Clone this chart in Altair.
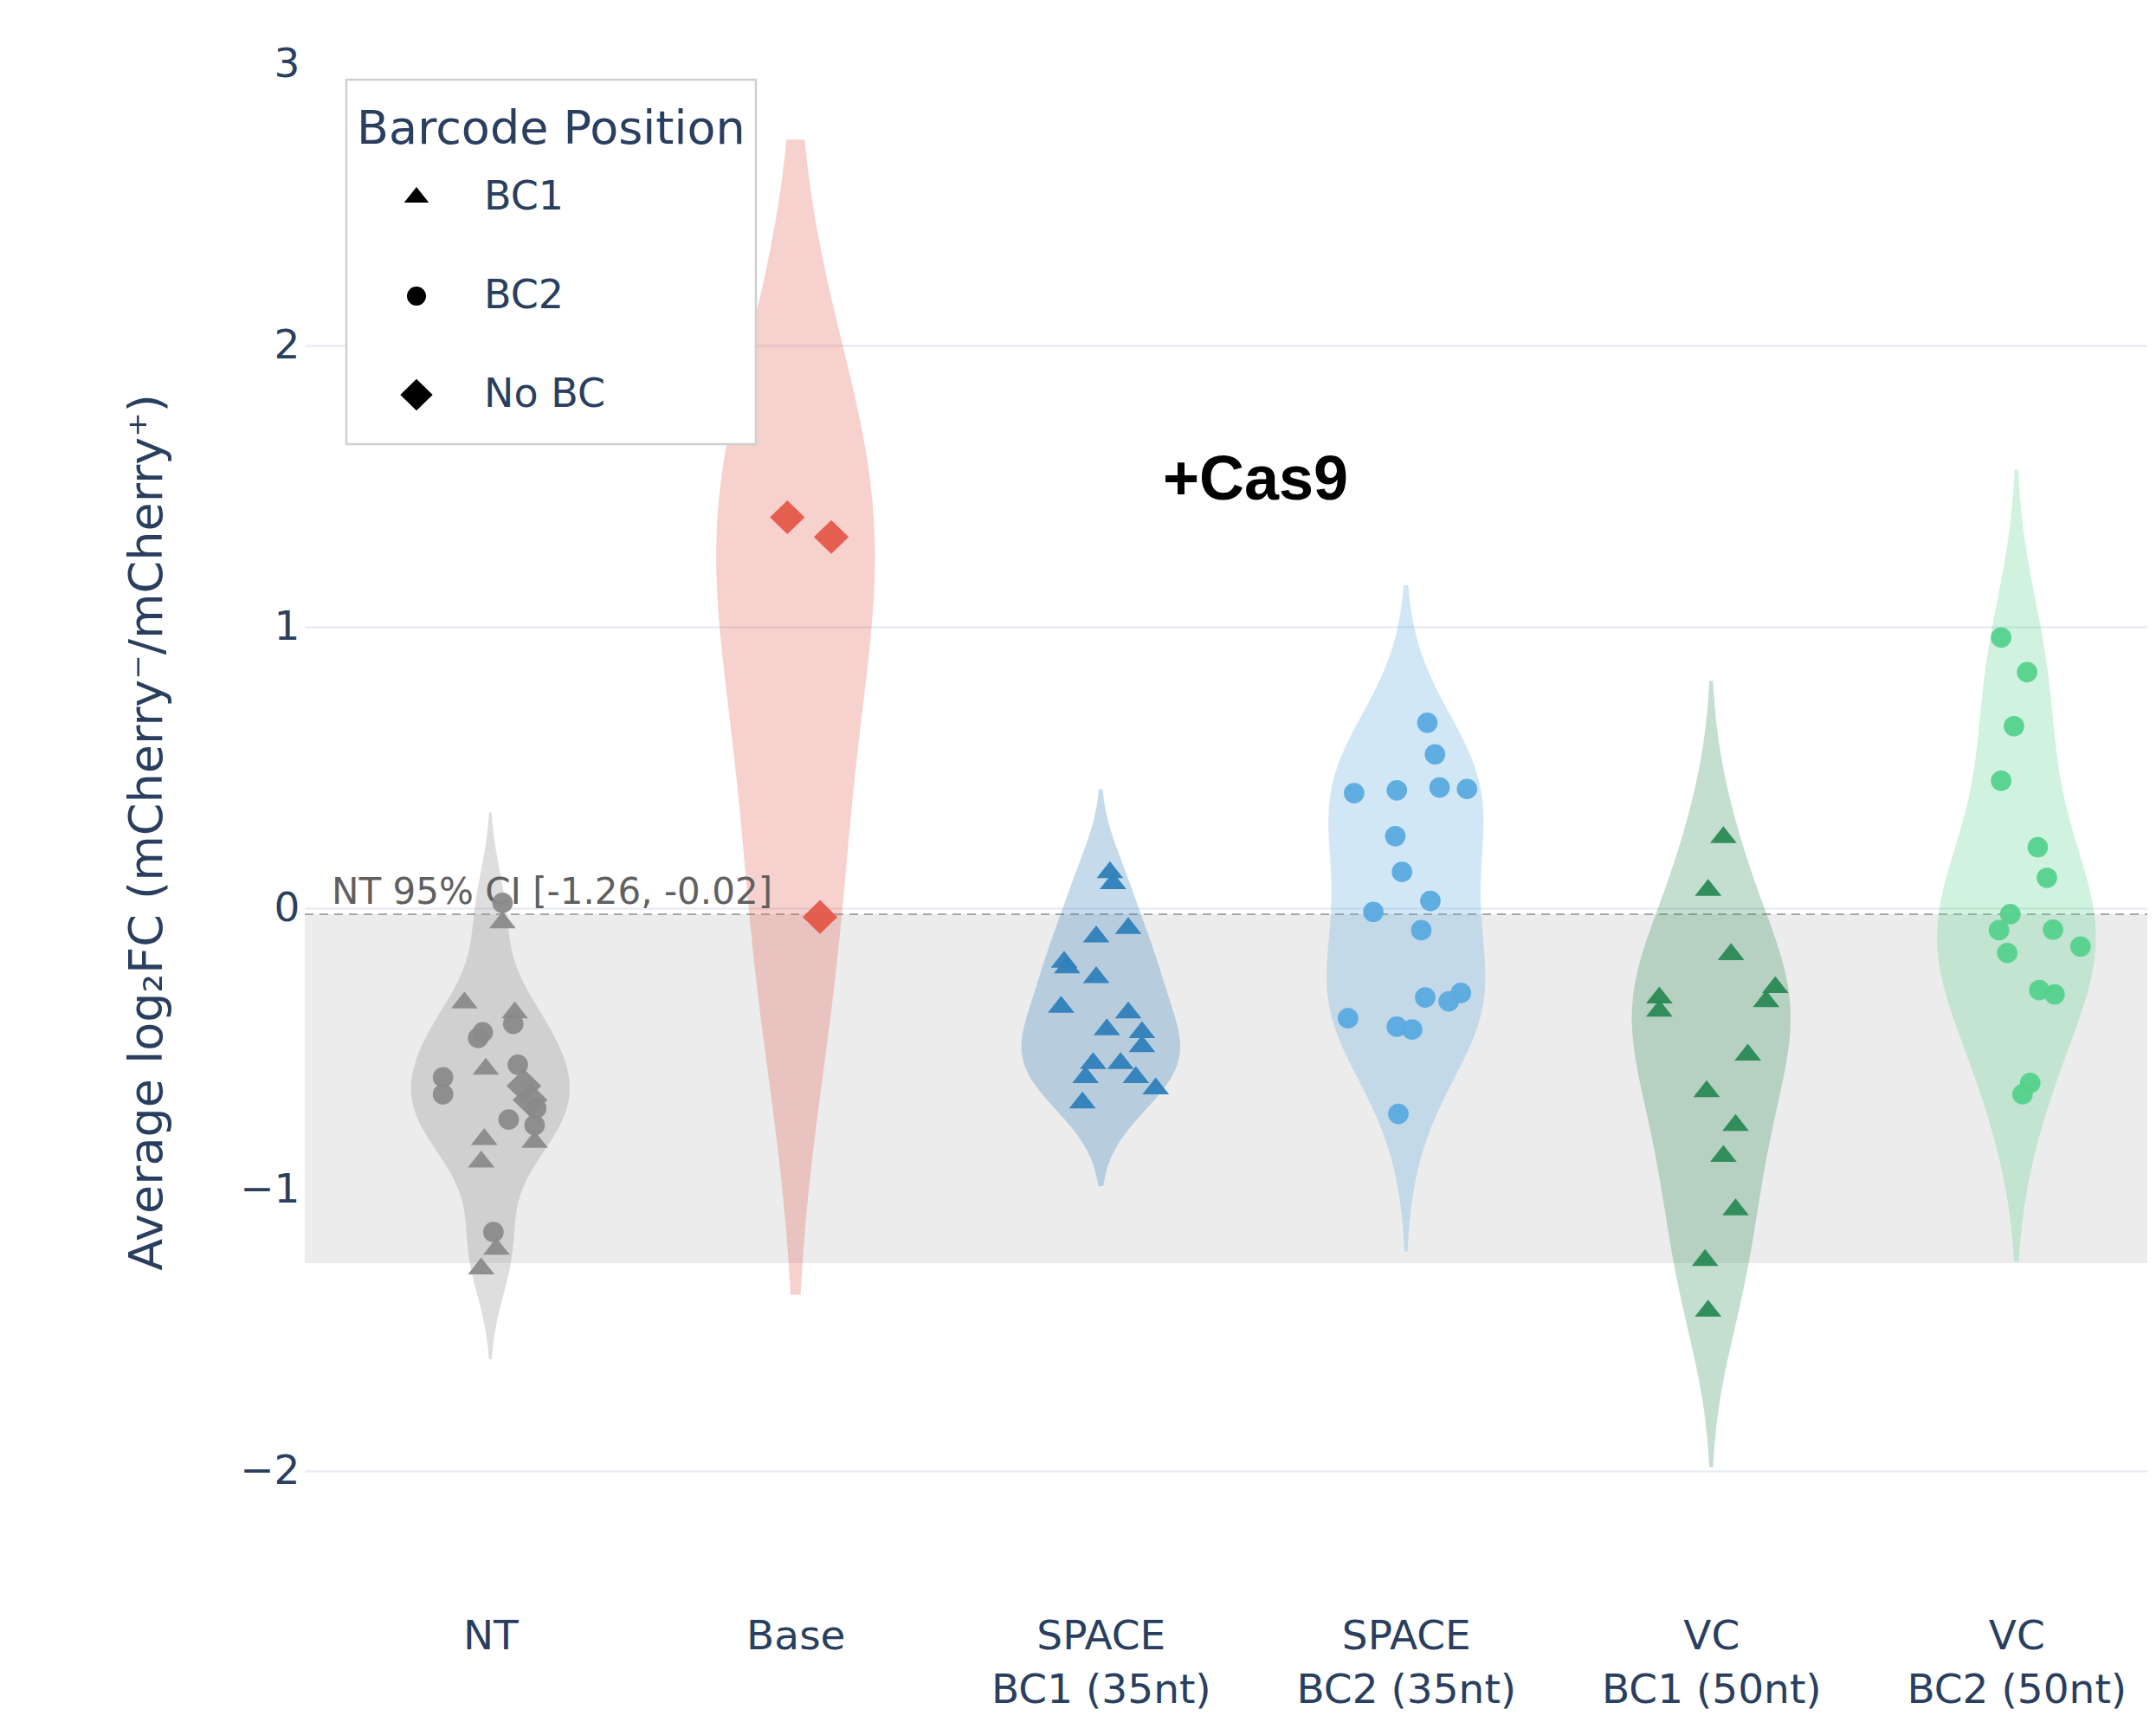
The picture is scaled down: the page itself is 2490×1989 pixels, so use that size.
import json
import altair as alt
import numpy as np
import pandas as pd

# ---------------- data ----------------
CATEGORIES = ["NT", "Base", "SPACE BC1 (35nt)", "SPACE BC2 (35nt)", "VC BC1 (50nt)", "VC BC2 (50nt)"]
TICK_LABELS = [["NT"], ["Base"], ["SPACE", "BC1 (35nt)"], ["SPACE", "BC2 (35nt)"],
               ["VC", "BC1 (50nt)"], ["VC", "BC2 (50nt)"]]
BARCODES = ["BC1", "BC2", "No BC"]

NT_VALUES = [-0.05, -0.335, -0.37, -0.57, -0.82, -0.83, -0.90, -1.21, -1.28,
             0.02, -0.41, -0.44, -0.46, -0.555, -0.60, -0.66, -0.71, -0.75, -0.77, -1.15,
             -0.63, -0.68]
NT_BARCODE = ["BC1"] * 9 + ["BC2"] * 11 + ["No BC"] * 2
NT_JITTER = [0.04, -0.085, 0.08, -0.015, -0.02, 0.145, -0.03, 0.02, -0.03,
             0.04, 0.075, -0.025, -0.04, 0.09, -0.155, -0.155, 0.15, 0.06, 0.145, 0.01,
             0.11, 0.13]

BASE_VALUES = [1.39, 1.32, -0.03]
BASE_BARCODE = ["No BC"] * 3
BASE_JITTER = [-0.027, 0.117, 0.08]

SPACE1_VALUES = [0.128, 0.089, -0.07, -0.10, -0.19, -0.21, -0.245, -0.35, -0.37,
                 -0.43, -0.44, -0.49, -0.55, -0.55, -0.60, -0.60, -0.64, -0.69]
SPACE1_BARCODE = ["BC1"] * 18
SPACE1_JITTER = [0.03, 0.04, 0.09, -0.015, -0.12, -0.11, -0.015, -0.13, 0.09,
                 0.02, 0.135, 0.135, -0.025, 0.065, -0.05, 0.115, 0.18, -0.06]

SPACE2_VALUES = [0.66, 0.548, 0.41, 0.42, 0.43, 0.425, 0.257, 0.13, 0.027,
                 -0.012, -0.077, -0.316, -0.33, -0.30, -0.39, -0.42, -0.43, -0.73]
SPACE2_BARCODE = ["BC2"] * 18
SPACE2_JITTER = [0.07, 0.095, -0.17, -0.03, 0.11, 0.20, -0.035, -0.013, 0.08,
                 -0.107, 0.05, 0.063, 0.14, 0.18, -0.19, -0.03, 0.02, -0.025]

VC1_VALUES = [0.253, 0.065, -0.163, -0.317, -0.364, -0.28, -0.33, -0.52, -0.65,
              -0.77, -0.88, -1.07, -1.25, -1.43]
VC1_BARCODE = ["BC1"] * 14
VC1_JITTER = [0.04, -0.01, 0.065, -0.17, -0.17, 0.21, 0.18, 0.12, -0.015,
              0.08, 0.04, 0.08, -0.02, -0.01]

VC2_VALUES = [0.963, 0.84, 0.648, 0.454, 0.218, 0.109, -0.02, -0.077, -0.075,
              -0.135, -0.158, -0.29, -0.305, -0.62, -0.66]
VC2_BARCODE = ["BC2"] * 15
VC2_JITTER = [-0.05, 0.035, -0.008, -0.05, 0.07, 0.10, -0.02, -0.057, 0.12,
              0.21, -0.03, 0.075, 0.125, 0.045, 0.02]

CI_BOUNDS = [-1.26, -0.02]

GROUPS = [
    (NT_VALUES, NT_BARCODE, NT_JITTER),
    (BASE_VALUES, BASE_BARCODE, BASE_JITTER),
    (SPACE1_VALUES, SPACE1_BARCODE, SPACE1_JITTER),
    (SPACE2_VALUES, SPACE2_BARCODE, SPACE2_JITTER),
    (VC1_VALUES, VC1_BARCODE, VC1_JITTER),
    (VC2_VALUES, VC2_BARCODE, VC2_JITTER),
]

# ---------------- styles ----------------
POINT_COLORS = ["#8a8a8a", "#e4584a", "#2f7fba", "#5aaae0", "#2a8a55", "#55d28c"]
VIOLIN_OPACITY = 0.28
HALF_W = 0.26
TEXT_COLOR = "#2a3f5f"
FONT = "DejaVu Sans"
SHAPES = ["M0,-1.1L1.3,0.55L-1.3,0.55Z", "circle", "M1.7,0L0,1.65L-1.7,0L0,-1.65Z"]

rows = []
for i, (vals, bcs, jit) in enumerate(GROUPS):
    for v, b, j in zip(vals, bcs, jit):
        rows.append({"group": CATEGORIES[i], "idx": i, "value": v, "barcode": b, "xpos": i + j})
df = pd.DataFrame(rows)


def plotly_bandwidth(vals):
    v = np.sort(np.asarray(vals, dtype=float))
    n = len(v)

    def interp(p):
        k = p * n - 0.5
        if k < 0:
            return v[0]
        if k > n - 1:
            return v[-1]
        f = k % 1
        return f * v[int(np.ceil(k))] + (1 - f) * v[int(np.floor(k))]

    iqr = interp(0.75) - interp(0.25)
    ssd = np.std(v, ddof=1)
    a = min(ssd, iqr / 1.349) if iqr > 0 else ssd
    return 1.059 * a * n ** -0.2


x_scale = alt.Scale(domain=[-0.608, 5.429], nice=False, zero=False)
y_scale = alt.Scale(domain=[-2.46, 3.05], nice=False, zero=False)

label_expr = json.dumps(TICK_LABELS) + "[round(datum.value)]"
x_axis = alt.Axis(values=list(range(len(CATEGORIES))), labelExpr=label_expr, grid=False,
                  domain=False, ticks=False, labelFontSize=47, labelColor=TEXT_COLOR,
                  labelFont=FONT, labelLineHeight=62, labelPadding=18, labelBaseline="top",
                  labelOverlap=False, labelFlush=False, labelLimit=800, title="")
y_axis = alt.Axis(values=[-2, -1, 0, 1, 2, 3], grid=True,
                  gridColor={"condition": {"test": "datum.value === 3", "value": "transparent"},
                             "value": "#e8edf5"},
                  gridWidth=2.5, domain=False, ticks=False, labelFontSize=47,
                  labelColor=TEXT_COLOR, labelFont=FONT, labelPadding=6,
                  title="Average log₂FC (mCherry⁻/mCherry⁺)", titleFontSize=54,
                  titleColor=TEXT_COLOR, titleFont=FONT, titleFontWeight="normal",
                  titleX=-182, titleY=903, titleAngle=-90, titleAlign="center",
                  titleBaseline="middle")

# background CI band and dashed line
ci_df = pd.DataFrame({"lo": [CI_BOUNDS[0]], "hi": [CI_BOUNDS[1]],
                      "label": [f"NT 95% CI [{CI_BOUNDS[0]:.2f}, {CI_BOUNDS[1]:.2f}]"],
                      "tx": [-0.52]})
band = alt.Chart(ci_df).mark_rect(color="#ececec").encode(
    y=alt.Y("lo:Q", scale=y_scale, axis=y_axis), y2="hi:Q",
    x=alt.value(0), x2=alt.value("width"))
rule = alt.Chart(ci_df).mark_rule(color="#a8a8a8", strokeWidth=2, strokeDash=[10, 7]).encode(
    y=alt.Y("hi:Q", scale=y_scale, axis=y_axis),
    x=alt.value(0), x2=alt.value("width"))
ci_text = alt.Chart(ci_df).mark_text(align="left", baseline="alphabetic", dy=-12, fontSize=42,
                                     color="#606060", font=FONT).encode(
    x=alt.X("tx:Q", scale=x_scale, axis=x_axis),
    y=alt.Y("hi:Q", scale=y_scale, axis=y_axis),
    text="label:N")

violins = []
for i, (vals, _, _) in enumerate(GROUPS):
    bw = plotly_bandwidth(vals)
    lo, hi = min(vals) - 2 * bw, max(vals) + 2 * bw
    v = (alt.Chart(df)
         .transform_filter(alt.datum.group == CATEGORIES[i])
         .transform_density("value", as_=["v", "density"], bandwidth=float(bw),
                            extent=[float(lo), float(hi)], steps=200)
         .transform_joinaggregate(maxd="max(density)")
         .transform_calculate(left=f"{i} - {HALF_W} * datum.density / datum.maxd",
                              right=f"{i} + {HALF_W} * datum.density / datum.maxd")
         .mark_area(orient="horizontal", color=POINT_COLORS[i], opacity=VIOLIN_OPACITY)
         .encode(y=alt.Y("v:Q", scale=y_scale, axis=y_axis),
                 x=alt.X("left:Q", scale=x_scale, axis=x_axis),
                 x2="right:Q"))
    violins.append(v)

legend = alt.Legend(title="Barcode Position", orient="none", legendX=48, legendY=34,
                    padding=12, strokeColor="#d0d0d0", fillColor="white",
                    titleFontSize=54, titleFont=FONT, titleColor=TEXT_COLOR,
                    titleFontWeight="normal", titleBaseline="line-top", titleLineHeight=92,
                    titlePadding=25, titleLimit=800,
                    labelFontSize=46, labelFont=FONT, labelColor=TEXT_COLOR, labelLimit=600,
                    symbolSize=484, symbolFillColor="black", symbolStrokeColor="black",
                    symbolStrokeWidth=0, symbolOpacity=1, symbolOffset=46,
                    labelOffset=55, rowPadding=24, clipHeight=90)

points = alt.Chart(df).mark_point(filled=True, size=560, opacity=0.95).encode(
    x=alt.X("xpos:Q", scale=x_scale, axis=x_axis),
    y=alt.Y("value:Q", scale=y_scale, axis=y_axis),
    color=alt.Color("group:N", scale=alt.Scale(domain=CATEGORIES, range=POINT_COLORS), legend=None),
    shape=alt.Shape("barcode:N", scale=alt.Scale(domain=BARCODES, range=SHAPES), legend=legend),
)

ann_df = pd.DataFrame({"x": [2.507], "y": [1.52], "text": ["+Cas9"]})
cas9 = alt.Chart(ann_df).mark_text(fontSize=72, fontWeight="bold", font="Liberation Sans",
                                   color="black", align="center", baseline="middle").encode(
    x=alt.X("x:Q", scale=x_scale, axis=x_axis),
    y=alt.Y("y:Q", scale=y_scale, axis=y_axis),
    text="text:N")

chart = alt.layer(band, rule, *violins, ci_text, points, cas9).properties(
    width=2128, height=1791,
    padding={"left": 344, "top": 50, "right": 0, "bottom": 132},
    autosize=alt.AutoSizeParams(type="none"),
    background="white",
).configure_view(stroke=None).configure_legend(strokeWidth=2.5)

chart.save("out.html", embed_options={"renderer": "svg", "actions": False})
